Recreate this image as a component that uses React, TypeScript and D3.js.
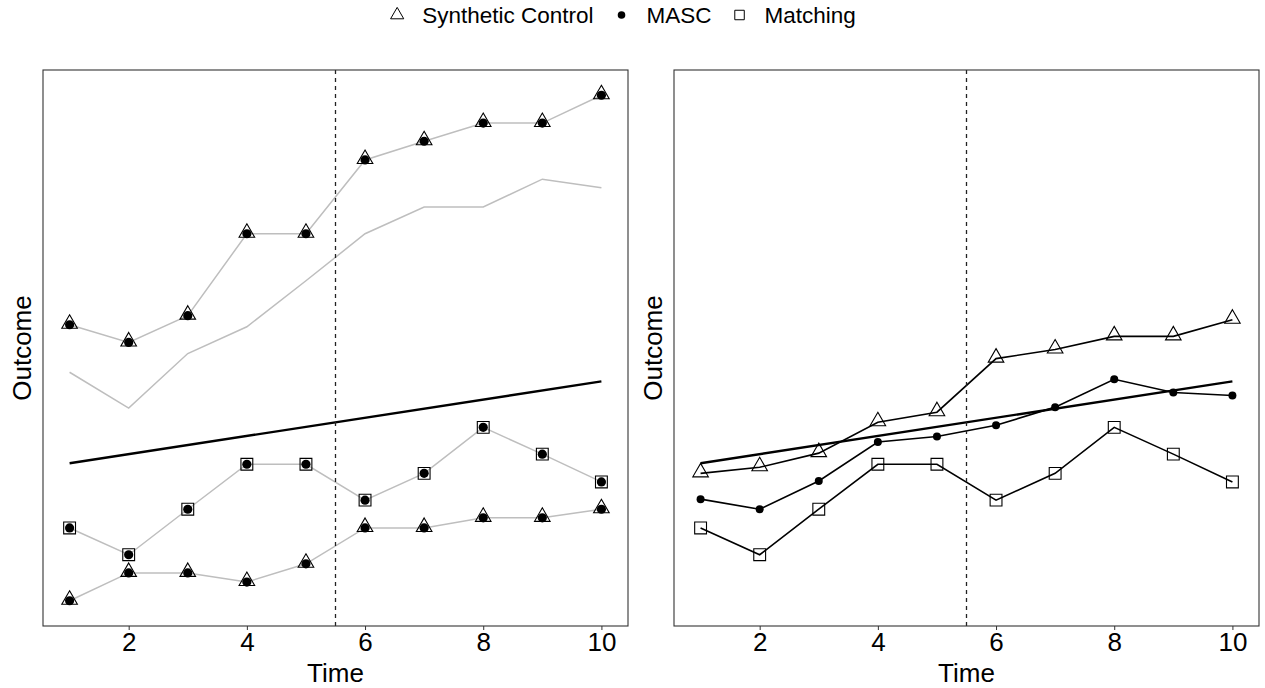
import * as React from "react";
import * as d3 from "d3";

const times = [1, 2, 3, 4, 5, 6, 7, 8, 9, 10];
const xTicks = [2, 4, 6, 8, 10];
const treatTime = 5.5;

// left panel: donor units
const donorUpper = [54.6, 51.1, 56.4, 72.6, 72.6, 87.2, 90.9, 94.5, 94.5, 100];
const donorUnused = [45.2, 38.1, 48.9, 54.2, 63.3, 72.6, 77.9, 77.9, 83.4, 81.7];
const donorMatch = [14.4, 9.1, 18.1, 27.0, 27.0, 19.9, 25.2, 34.3, 29.0, 23.5];
const donorLower = [0, 5.5, 5.5, 3.7, 7.3, 14.4, 14.4, 16.4, 16.4, 18.1];

// treated unit (straight line)
const trendTimes = [1, 10];
const treated = [27.2, 43.4];

// right panel: estimates
const scEst = [25.2, 26.4, 29.2, 35.3, 37.3, 47.9, 49.7, 52.3, 52.3, 55.6];
const mascEst = [20.1, 18.1, 23.7, 31.4, 32.5, 34.7, 38.3, 43.8, 41.2, 40.6];
const matchEst = [14.4, 9.1, 18.1, 27.0, 27.0, 19.9, 25.2, 34.3, 29.0, 23.5];

const legendLabels = ["Synthetic Control", "MASC", "Matching"];

const W = 1265;
const H = 688;
const FONT = "'Liberation Sans', Arial, Helvetica, sans-serif";
const GREY = "#BEBEBE";

const triSym = d3.symbol().type(d3.symbolTriangle).size(105);
const sqSym = d3.symbol().type(d3.symbolSquare).size(140);

function drawChart(svgRef) {
  const svg = d3.select(svgRef.current);
  svg.selectAll("*").remove();

  const allVals = [...donorUpper, ...donorUnused, ...donorMatch, ...donorLower, ...treated, ...scEst, ...mascEst, ...matchEst];
  const [lo, hi] = d3.extent(allVals);
  const pad = (hi - lo) * 0.05;
  const y = d3.scaleLinear().domain([lo - pad, hi + pad]).range([626, 70]);

  const panels = [
    { x0: 43, x1: 628 },
    { x0: 674, x1: 1259 },
  ];

  panels.forEach((p, i) => {
    const x = d3.scaleLinear().domain([0.55, 10.45]).range([p.x0, p.x1]);
    const g = svg.append("g");
    const line = d3.line().x((d) => x(d[0])).y((d) => y(d[1]));
    const pts = (vals) => times.map((t, k) => [t, vals[k]]);

    if (i === 0) {
      [donorUnused, donorUpper, donorMatch, donorLower].forEach((s) => {
        g.append("path").attr("d", line(pts(s))).attr("fill", "none")
          .attr("stroke", GREY).attr("stroke-width", 1.5);
      });
      g.append("path").attr("d", line(trendTimes.map((t, k) => [t, treated[k]])))
        .attr("fill", "none").attr("stroke", "black").attr("stroke-width", 2.4);

      [donorUpper, donorLower].forEach((s) => {
        g.selectAll(null).data(pts(s)).enter().append("path")
          .attr("d", triSym())
          .attr("transform", (d) => `translate(${x(d[0])},${y(d[1]) - 1})`)
          .attr("fill", "none").attr("stroke", "black").attr("stroke-width", 1.1);
      });
      g.selectAll(null).data(pts(donorMatch)).enter().append("path")
        .attr("d", sqSym())
        .attr("transform", (d) => `translate(${x(d[0])},${y(d[1])})`)
        .attr("fill", "none").attr("stroke", "black").attr("stroke-width", 1.1);
      [donorUpper, donorLower, donorMatch].forEach((s) => {
        g.selectAll(null).data(pts(s)).enter().append("circle")
          .attr("cx", (d) => x(d[0])).attr("cy", (d) => y(d[1]))
          .attr("r", 4.6).attr("fill", "black");
      });
    } else {
      g.append("path").attr("d", line(trendTimes.map((t, k) => [t, treated[k]])))
        .attr("fill", "none").attr("stroke", "black").attr("stroke-width", 2.4);
      [scEst, mascEst, matchEst].forEach((s) => {
        g.append("path").attr("d", line(pts(s))).attr("fill", "none")
          .attr("stroke", "black").attr("stroke-width", 1.6);
      });
      g.selectAll(null).data(pts(scEst)).enter().append("path")
        .attr("d", triSym())
        .attr("transform", (d) => `translate(${x(d[0])},${y(d[1]) - 1})`)
        .attr("fill", "none").attr("stroke", "black").attr("stroke-width", 1.1);
      g.selectAll(null).data(pts(matchEst)).enter().append("path")
        .attr("d", sqSym())
        .attr("transform", (d) => `translate(${x(d[0])},${y(d[1])})`)
        .attr("fill", "none").attr("stroke", "black").attr("stroke-width", 1.1);
      g.selectAll(null).data(pts(mascEst)).enter().append("circle")
        .attr("cx", (d) => x(d[0])).attr("cy", (d) => y(d[1]))
        .attr("r", 4).attr("fill", "black");
    }

    // treatment line
    g.append("line")
      .attr("x1", x(treatTime)).attr("x2", x(treatTime))
      .attr("y1", 70).attr("y2", 626)
      .attr("stroke", "#222").attr("stroke-width", 1.3)
      .attr("stroke-dasharray", "4,4");

    // panel border
    g.append("rect")
      .attr("x", p.x0).attr("y", 70)
      .attr("width", p.x1 - p.x0).attr("height", 556)
      .attr("fill", "none").attr("stroke", "#333").attr("stroke-width", 1.1);

    // x axis
    const ax = g.append("g").attr("transform", "translate(0,626)")
      .call(d3.axisBottom(x).tickValues(xTicks).tickSize(4).tickPadding(3).tickSizeOuter(0));
    ax.select(".domain").remove();
    ax.selectAll("line").attr("stroke", "#333");
    ax.selectAll("text").attr("font-family", FONT).attr("font-size", 26).attr("fill", "black");

    g.append("text")
      .attr("x", (p.x0 + p.x1) / 2).attr("y", 682)
      .attr("text-anchor", "middle")
      .attr("font-family", FONT).attr("font-size", 26)
      .text("Time");

    g.append("text")
      .attr("transform", `translate(${p.x0 - 12},${348}) rotate(-90)`)
      .attr("text-anchor", "middle")
      .attr("font-family", FONT).attr("font-size", 26)
      .text("Outcome");
  });

  // legend
  const keyGap = 25;
  const itemGap = 28;
  const lg = svg.append("g");
  const items = lg.selectAll(null).data(legendLabels).enter().append("g");
  items.append("text")
    .attr("x", keyGap).attr("y", 23)
    .attr("font-family", FONT).attr("font-size", 22.5)
    .text((d) => d);
  let cx = 0;
  items.each(function (d, k) {
    const item = d3.select(this);
    const tw = (item.select("text").node() as SVGTextElement).getComputedTextLength();
    item.attr("transform", `translate(${cx},0)`);
    if (k === 0) {
      item.append("path").attr("d", d3.symbol().type(d3.symbolTriangle).size(75)())
        .attr("transform", "translate(0,15)")
        .attr("fill", "none").attr("stroke", "black").attr("stroke-width", 1);
    } else if (k === 1) {
      item.append("circle").attr("cx", 0).attr("cy", 15).attr("r", 3.8).attr("fill", "black");
    } else {
      item.append("path").attr("d", d3.symbol().type(d3.symbolSquare).size(90)())
        .attr("transform", "translate(0,15)")
        .attr("fill", "none").attr("stroke", "black").attr("stroke-width", 1);
    }
    cx += keyGap + tw + itemGap;
  });
  const total = cx - itemGap;
  lg.attr("transform", `translate(${W / 2 - total / 2 - 6},0)`);
}

const App = () => {
  const svgRef = React.useRef(null);

  React.useEffect(() => {
    drawChart(svgRef);
  }, [svgRef]);

  return (
    <div style={{ position: "absolute", left: 0, top: 0 }}>
      <svg ref={svgRef} width={W} height={H} style={{ display: "block", background: "white" }} />
    </div>
  );
};

export default App;
